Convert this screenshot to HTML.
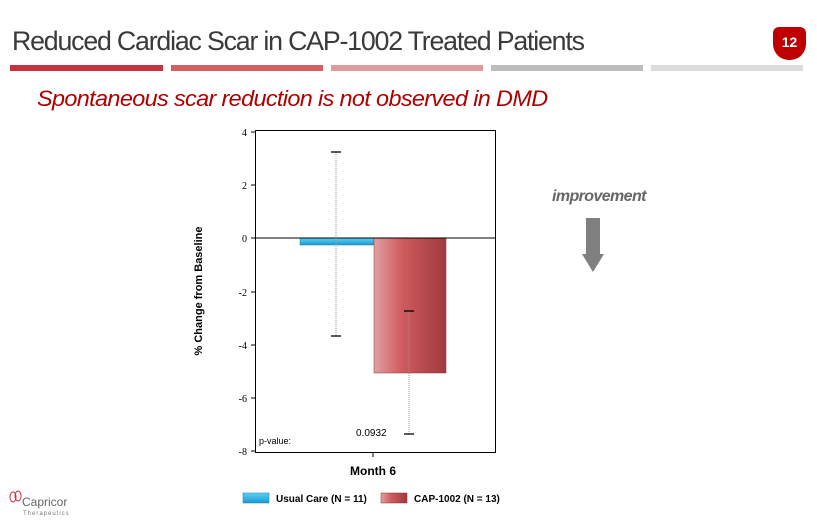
<!DOCTYPE html>
<html><head><meta charset="utf-8"><style>
body{margin:0;width:817px;height:531px;background:#fff;overflow:hidden;position:relative;font-family:"Liberation Sans",sans-serif}
.a{position:absolute}
</style></head><body>
<div class="a" style="left:12px;top:26px;font-size:27px;color:#3a3a3a;letter-spacing:-1.2px;transform:scaleX(0.99);transform-origin:left">Reduced Cardiac Scar in CAP-1002 Treated Patients</div>
<div class="a" style="left:773px;top:27px;width:33px;height:33px;background:#c00000;border-radius:6px 6px 16px 16px;color:#fff;font-size:14px;font-weight:bold;text-align:center;line-height:30px">12</div>
<div class="a" style="left:10px;top:65px;width:153px;height:6px;background:#c8323a"></div>
<div class="a" style="left:171px;top:65px;width:152px;height:6px;background:#d35f63"></div>
<div class="a" style="left:331px;top:65px;width:152px;height:6px;background:#e19a9c"></div>
<div class="a" style="left:491px;top:65px;width:152px;height:6px;background:#bdbdbd"></div>
<div class="a" style="left:651px;top:65px;width:152px;height:6px;background:#dcdcdc"></div>
<div class="a" style="left:37px;top:86px;font-size:22px;font-style:italic;color:#b00000;letter-spacing:-0.6px;transform:scaleX(1.065);transform-origin:left">Spontaneous scar reduction is not observed in DMD</div>
<div class="a" style="left:552px;top:188px;font-size:16px;font-style:italic;font-weight:bold;color:#666;letter-spacing:-0.6px">improvement</div>
<svg class="a" style="left:0;top:0" width="817" height="531">
<defs>
<linearGradient id="r" x1="0" x2="1"><stop offset="0" stop-color="#e0a0a0"/><stop offset="0.4" stop-color="#cf5a5e"/><stop offset="1" stop-color="#9e3a3e"/></linearGradient>
<linearGradient id="b" x1="0" x2="0" y1="0" y2="1"><stop offset="0" stop-color="#5cd0f5"/><stop offset="1" stop-color="#1a9ad0"/></linearGradient>
</defs>
<rect x="586" y="218" width="14" height="36" fill="#808080"/>
<polygon points="582,254 604,254 593,272" fill="#808080"/>
<rect x="255.5" y="130.5" width="240" height="322" fill="none" stroke="#000" stroke-width="1"/>
<g stroke="#000">
<line x1="251" y1="132" x2="255" y2="132"/><line x1="251" y1="185" x2="255" y2="185"/><line x1="251" y1="238" x2="255" y2="238"/><line x1="251" y1="292" x2="255" y2="292"/><line x1="251" y1="345" x2="255" y2="345"/><line x1="251" y1="398" x2="255" y2="398"/><line x1="251" y1="451" x2="255" y2="451"/>
<line x1="373" y1="453" x2="373" y2="457"/>
</g>
<g font-family="Liberation Serif" font-size="10" text-anchor="end" fill="#000">
<text x="247" y="136">4</text><text x="247" y="189">2</text><text x="247" y="242">0</text><text x="247" y="296">-2</text><text x="247" y="349">-4</text><text x="247" y="402">-6</text><text x="247" y="455">-8</text>
</g>
<rect x="300" y="238" width="74" height="7" fill="url(#b)" stroke="#1a7fb0" stroke-width="0.5"/>
<rect x="374" y="238" width="72" height="135" fill="url(#r)" stroke="#8a3034" stroke-width="0.5"/>
<line x1="255" y1="238" x2="496" y2="238" stroke="#000"/>
<g stroke="#999" stroke-dasharray="1,1"><line x1="336" y1="152" x2="336" y2="336"/><line x1="409" y1="311" x2="409" y2="434"/></g>
<g stroke="#000" stroke-width="1.3"><line x1="331" y1="152" x2="341" y2="152"/><line x1="331" y1="336" x2="341" y2="336"/><line x1="404" y1="311" x2="414" y2="311"/><line x1="404" y1="434" x2="414" y2="434"/></g>
<text x="356" y="436" font-size="10" fill="#000">0.0932</text>
<text x="259" y="444" font-size="9" fill="#000">p-value:</text>
<text x="373" y="475" font-size="12" font-weight="bold" text-anchor="middle">Month 6</text>
<text transform="translate(202,291) rotate(-90)" font-size="11" font-weight="bold" text-anchor="middle">% Change from Baseline</text>
<rect x="243" y="493" width="26" height="10" fill="url(#b)" stroke="#1a7fb0" stroke-width="0.5"/>
<text x="276" y="502" font-size="10" font-weight="bold">Usual Care (N = 11)</text>
<rect x="381" y="493" width="26" height="10" fill="url(#r)" stroke="#8a3034" stroke-width="0.5"/>
<text x="414" y="502" font-size="10" font-weight="bold">CAP-1002 (N = 13)</text>
<g fill="none" stroke="#d03040" stroke-width="1"><ellipse cx="13" cy="497" rx="3" ry="5"/><ellipse cx="18" cy="496" rx="3" ry="5"/></g>
<text x="22" y="506" font-size="12" fill="#666">Capricor</text>
<text x="23" y="515" font-size="6" fill="#777" letter-spacing="1">Therapeutics</text>
</svg>
</body></html>
